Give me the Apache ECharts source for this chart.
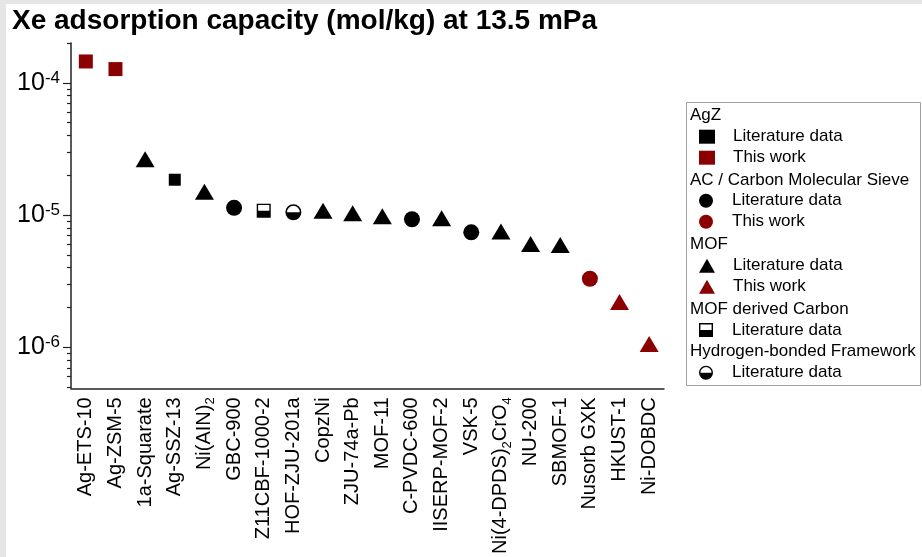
<!DOCTYPE html>
<html>
<head>
<meta charset="utf-8">
<script src="https://cdn.jsdelivr.net/npm/echarts@6/dist/echarts.min.js"></script>
<style>
html, body { margin: 0; padding: 0; background: #fff; }
#chart { width: 922px; height: 557px; }
</style>
</head>
<body>
<div id="chart"></div>
<script>
// 数据：材料名称、13.5 mPa 下的 Xe 吸附量 (mol/kg)、所属系列
var categories = ['Ag-ETS-10', 'Ag-ZSM-5', '1a-Squarate', 'Ag-SSZ-13', 'Ni(AIN)_2', 'GBC-900',
    'Z11CBF-1000-2', 'HOF-ZJU-201a', 'CopzNi', 'ZJU-74a-Pb', 'MOF-11', 'C-PVDC-600',
    'IISERP-MOF-2', 'VSK-5', 'Ni(4-DPDS)_2CrO_4', 'NU-200', 'SBMOF-1', 'Nusorb GXK', 'HKUST-1', 'Ni-DOBDC'];
var capacity = [1.45e-4, 1.27e-4, 2.64e-5, 1.85e-5, 1.50e-5, 1.135e-5,
    1.08e-5, 1.05e-5, 1.08e-5, 1.03e-5, 9.8e-6, 9.3e-6,
    9.45e-6, 7.4e-6, 7.5e-6, 6.05e-6, 5.95e-6, 3.3e-6, 2.2e-6, 1.06e-6];
var seriesOf = ['agzThis', 'agzThis', 'mofLit', 'agzLit', 'mofLit', 'acLit',
    'mdcLit', 'hofLit', 'mofLit', 'mofLit', 'mofLit', 'acLit',
    'mofLit', 'acLit', 'mofLit', 'mofLit', 'mofLit', 'acThis', 'mofThis', 'mofThis'];
var yTickExponents = [-6, -5, -4];

// 图例分组
var groupTitles = ['AgZ', 'AC / Carbon Molecular Sieve', 'MOF', 'MOF derived Carbon', 'Hydrogen-bonded Framework'];
var groupKeys = [['agzLit', 'agzThis'], ['acLit', 'acThis'], ['mofLit', 'mofThis'], ['mdcLit'], ['hofLit']];
var keyLabels = {
    agzLit: 'Literature data', agzThis: 'This work',
    acLit: 'Literature data', acThis: 'This work',
    mofLit: 'Literature data', mofThis: 'This work',
    mdcLit: 'Literature data', hofLit: 'Literature data'
};

var FONT = 'Liberation Sans, Arial, sans-serif';
var RED = '#8b0000';
var HALF_SQUARE = 'path://M0,0L10,0L10,10L0,10Z M1,1L1,5L9,5L9,1Z';
var HALF_CIRCLE = 'path://M0,5A5,5,0,1,1,10,5A5,5,0,1,1,0,5Z M1,5L9,5A4,4,0,0,0,1,5Z';

var markerStyle = {
    agzLit: { symbol: 'rect', size: 12, color: '#000' },
    agzThis: { symbol: 'rect', size: 14, color: RED },
    acLit: { symbol: 'circle', size: 16, color: '#000' },
    acThis: { symbol: 'circle', size: 16, color: RED },
    mofLit: { symbol: 'triangle', size: [19, 16], color: '#000' },
    mofThis: { symbol: 'triangle', size: [19, 16], color: RED },
    mdcLit: { symbol: HALF_SQUARE, size: 14, color: '#000' },
    hofLit: { symbol: HALF_CIRCLE, size: 16, color: '#000' }
};

function seriesName(key) {
    return key + '|' + keyLabels[key];
}

function pointsFor(key) {
    var pts = [];
    for (var i = 0; i < categories.length; i++) {
        if (seriesOf[i] === key) pts.push([i, Math.log10(capacity[i])]);
    }
    return pts;
}

var yMax = Math.log10(2) - 4;
var yMin = -6.31;

// 对数轴的次刻度
var minorTicks = [];
for (var n = -7; n <= -4; n++) {
    for (var k = 2; k <= 9; k++) {
        var t = Math.log10(k) + n;
        if (t >= yMin && t <= yMax) minorTicks.push(t);
    }
}

var series = [];
var legends = [];
var legendTops = [128.2, 192.2, 257.2, 321.5, 364.2];
var headerYs = [115, 180, 244, 309, 351.7];

groupKeys.forEach(function (keys, gi) {
    keys.forEach(function (key) {
        var m = markerStyle[key];
        series.push({
            name: seriesName(key),
            type: 'scatter',
            xAxisIndex: 0,
            yAxisIndex: 0,
            symbol: m.symbol,
            symbolSize: m.size,
            itemStyle: { color: m.color, opacity: 1 },
            data: pointsFor(key)
        });
    });
    legends.push({
        orient: 'vertical',
        left: 699,
        top: legendTops[gi],
        padding: 0,
        itemWidth: 16,
        itemHeight: 14,
        itemGap: 4,
        selectedMode: false,
        data: keys.map(seriesName),
        formatter: function (name) { return '{t|' + name.split('|')[1] + '}'; },
        textStyle: {
            fontSize: 17, color: '#000', fontFamily: FONT,
            rich: { t: { fontSize: 17, color: '#000', fontFamily: FONT, padding: [0, 0, 0, 13] } }
        }
    });
});

var graphics = [
    { type: 'rect', left: 0, top: 0, shape: { width: 6, height: 557 }, style: { fill: '#e6e6e6' } },
    { type: 'rect', left: 0, top: 0, shape: { width: 922, height: 4 }, style: { fill: '#e6e6e6' } },
    { type: 'rect', shape: { x: 686.5, y: 102.5, width: 234, height: 283 }, style: { fill: '#fff', stroke: '#a0a0a0', lineWidth: 1 } }
];
groupTitles.forEach(function (title, gi) {
    graphics.push({
        type: 'text',
        x: 690,
        y: headerYs[gi],
        style: { text: title, font: '17px ' + FONT, fill: '#000', verticalAlign: 'middle' }
    });
});

var option = {
    backgroundColor: '#fff',
    animation: false,
    title: {
        text: 'Xe adsorption capacity (mol/kg) at 13.5 mPa',
        left: 12,
        top: 7,
        padding: 0,
        textStyle: { fontSize: 28, fontWeight: 'bold', color: '#000', fontFamily: FONT }
    },
    graphic: graphics,
    legend: legends,
    grid: { left: 71, top: 43, width: 593, height: 348 },
    xAxis: [{
        type: 'category',
        data: categories,
        axisLine: { lineStyle: { color: '#222', width: 1.5 } },
        axisTick: { alignWithLabel: true, interval: 0, length: 6, lineStyle: { color: '#222', width: 1.2 } },
        axisLabel: {
            interval: 0,
            rotate: 90,
            margin: 9,
            color: '#000',
            fontSize: 20,
            fontFamily: FONT,
            formatter: function (v) { return v.replace(/_(\d)/g, '{s|$1}'); },
            rich: { s: { fontSize: 13, fontFamily: FONT, color: '#000', verticalAlign: 'bottom', padding: [12, 0, 0, 0] } }
        }
    }, {
        type: 'category',
        data: categories,
        position: 'bottom',
        axisLine: { show: false },
        axisLabel: { show: false },
        axisTick: { interval: 0, length: 3, lineStyle: { color: '#222', width: 1.2 } }
    }],
    yAxis: [{
        type: 'value',
        min: yMin,
        max: yMax,
        splitLine: { show: false },
        axisLine: { show: true, lineStyle: { color: '#222', width: 1.5 } },
        axisTick: { show: true, customValues: yTickExponents, length: 8, lineStyle: { color: '#222', width: 1.2 } },
        axisLabel: {
            customValues: yTickExponents,
            margin: 11,
            formatter: function (v) { return '{b|10}{s|' + Math.round(v) + '}'; },
            rich: {
                b: { fontSize: 25, fontFamily: FONT, color: '#000' },
                s: { fontSize: 17, fontFamily: FONT, color: '#000', verticalAlign: 'top', padding: [0, 0, 10, 0] }
            }
        }
    }, {
        type: 'value',
        min: yMin,
        max: yMax,
        position: 'left',
        splitLine: { show: false },
        axisLine: { show: false },
        axisLabel: { show: false },
        axisTick: { show: true, customValues: minorTicks, length: 4, lineStyle: { color: '#222', width: 1.2 } }
    }],
    series: series
};

var myChart = echarts.init(document.getElementById('chart'));
myChart.setOption(option);
</script>
</body>
</html>
